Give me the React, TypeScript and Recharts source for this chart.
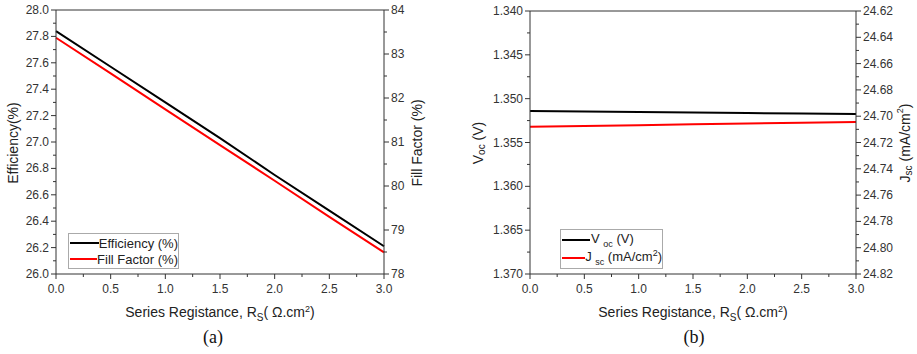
import React from 'react'
import {
  LineChart,
  Line,
  XAxis,
  YAxis,
  Legend,
  ReferenceLine,
} from 'recharts'

// Series resistance sweep (Ω.cm²)
const rs = [0, 0.5, 1.0, 1.5, 2.0, 2.5, 3.0]

// (a) efficiency and fill factor
const efficiency = [27.84, 27.57, 27.3, 27.03, 26.75, 26.48, 26.21]
const fillFactor = [83.37, 82.56, 81.74, 80.93, 80.12, 79.3, 78.49]

// (b) open circuit voltage and short circuit current density
const voc = [1.35141, 1.35147, 1.35153, 1.35158, 1.35164, 1.35169, 1.35175]
const jsc = [24.708, 24.7074, 24.7068, 24.7062, 24.7056, 24.705, 24.7044]

// tick lists (major + minor)
const xTicks = [0, 0.25, 0.5, 0.75, 1, 1.25, 1.5, 1.75, 2, 2.25, 2.5, 2.75, 3]
const effTicks = [
  26.0, 26.1, 26.2, 26.3, 26.4, 26.5, 26.6, 26.7, 26.8, 26.9, 27.0, 27.1, 27.2,
  27.3, 27.4, 27.5, 27.6, 27.7, 27.8, 27.9, 28.0,
]
const ffTicks = [78, 78.5, 79, 79.5, 80, 80.5, 81, 81.5, 82, 82.5, 83, 83.5, 84]
const vocTicks = [
  1.34, 1.3425, 1.345, 1.3475, 1.35, 1.3525, 1.355, 1.3575, 1.36, 1.3625,
  1.365, 1.3675, 1.37,
]
const jscTicks = [
  24.62, 24.63, 24.64, 24.65, 24.66, 24.67, 24.68, 24.69, 24.7, 24.71, 24.72,
  24.73, 24.74, 24.75, 24.76, 24.77, 24.78, 24.79, 24.8, 24.81, 24.82,
]

const AXIS = '#333'
const FONT = '"Liberation Sans", Arial, sans-serif'
const TICK_FONT = 12
const TITLE_FONT = 14

const isMajor = (v: number, step: number) =>
  Math.abs(v / step - Math.round(v / step)) < 1e-6

// tick with outward major/minor marks; tickSize/tickMargin are 0 so x/y sit on the axis
function makeTick(side: 'left' | 'right' | 'bottom', step: number, digits: number) {
  return (props: any) => {
    const { x, y, payload } = props
    const v = payload.value as number
    const major = isMajor(v, step)
    const len = major ? 5 : 3
    const label = major ? v.toFixed(digits) : null
    if (side === 'left') {
      return (
        <g>
          <line x1={x} x2={x - len} y1={y} y2={y} stroke={AXIS} />
          {label && (
            <text x={x - 7} y={y} dy={4} textAnchor="end" fontSize={TICK_FONT} fill={AXIS} fontFamily={FONT}>
              {label}
            </text>
          )}
        </g>
      )
    }
    if (side === 'right') {
      return (
        <g>
          <line x1={x} x2={x + len} y1={y} y2={y} stroke={AXIS} />
          {label && (
            <text x={x + 7} y={y} dy={4} textAnchor="start" fontSize={TICK_FONT} fill={AXIS} fontFamily={FONT}>
              {label}
            </text>
          )}
        </g>
      )
    }
    return (
      <g>
        <line x1={x} x2={x} y1={y} y2={y + len} stroke={AXIS} />
        {label && (
          <text x={x} y={y + 19} textAnchor="middle" fontSize={TICK_FONT} fill={AXIS} fontFamily={FONT}>
            {label}
          </text>
        )}
      </g>
    )
  }
}

function xTitle(tag: string, tagDx: number) {
  return (props: any) => {
    const { viewBox } = props
    const cx = viewBox.x + viewBox.width / 2
    return (
      <g>
        <text x={cx} y={317} textAnchor="middle" fontSize={TITLE_FONT} fill="#222" fontFamily={FONT}>
          Series Registance, R
          <tspan dy={4} fontSize={10}>S</tspan>
          <tspan dy={-4}>( Ω.cm</tspan>
          <tspan dy={-5} fontSize={9}>2</tspan>
          <tspan dy={5}>)</tspan>
        </text>
        <text x={cx + tagDx} y={343} textAnchor="middle" fontSize={18} fill="#111" fontFamily='"Liberation Serif", "Times New Roman", serif'>
          {tag}
        </text>
      </g>
    )
  }
}

function yTitle(cx: number, content: React.ReactNode) {
  return () => (
    <text
      x={cx}
      y={143}
      transform={`rotate(-90 ${cx} 143)`}
      textAnchor="middle"
      dominantBaseline="central"
      fontSize={TITLE_FONT}
      fill="#222"
      fontFamily={FONT}
    >
      {content}
    </text>
  )
}

function legendBox(
  items: { color: string; label: React.ReactNode }[],
  width: number,
  rowH: number,
  lineW: number
) {
  return () => (
    <div
      style={{
        width,
        border: '1px solid #aaa',
        background: '#fff',
        padding: '1px 0',
        fontFamily: FONT,
        fontSize: 13,
        color: '#222',
        boxSizing: 'border-box',
      }}
    >
      {items.map((it, i) => (
        <div key={i} style={{ display: 'flex', alignItems: 'center', height: rowH }}>
          <svg width={lineW + 1} height={4} style={{ marginLeft: 1 }}>
            <line x1={0} x2={lineW} y1={2} y2={2} stroke={it.color} strokeWidth={2} />
          </svg>
          <span style={{ whiteSpace: 'nowrap', lineHeight: 1 }}>{it.label}</span>
        </div>
      ))}
    </div>
  )
}

const dataA = rs.map((r, i) => ({ rs: r, eff: efficiency[i], ff: fillFactor[i] }))
const dataB = rs.map((r, i) => ({ rs: r, voc: voc[i], jsc: jsc[i] }))

function ChartA() {
  return (
    <LineChart
      width={459}
      height={354}
      data={dataA}
      margin={{ top: 10, right: 30, bottom: 50, left: 6 }}
    >
      <XAxis
        dataKey="rs"
        type="number"
        domain={[0, 3]}
        ticks={xTicks}
        interval={0}
        height={30}
        tickSize={0}
        tickMargin={0}
        tickLine={false}
        axisLine={{ stroke: AXIS }}
        tick={makeTick('bottom', 0.5, 1)}
        label={{ content: xTitle('(a)', -7) }}
      />
      <YAxis
        yAxisId="eff"
        orientation="left"
        type="number"
        domain={[26, 28]}
        ticks={effTicks}
        interval={0}
        width={50}
        tickSize={0}
        tickMargin={0}
        tickLine={false}
        axisLine={{ stroke: AXIS }}
        tick={makeTick('left', 0.2, 1)}
        label={{ content: yTitle(13, 'Efficiency(%)') }}
      />
      <YAxis
        yAxisId="ff"
        orientation="right"
        type="number"
        domain={[78, 84]}
        ticks={ffTicks}
        interval={0}
        width={45}
        tickSize={0}
        tickMargin={0}
        tickLine={false}
        axisLine={{ stroke: AXIS }}
        tick={makeTick('right', 1, 0)}
        label={{ content: yTitle(417, 'Fill Factor (%)') }}
      />
      <ReferenceLine yAxisId="eff" y={28} stroke={AXIS} />
      <Legend
        layout="horizontal"
        verticalAlign="middle"
        align="center"
        wrapperStyle={{ left: 68, top: 233, width: 'auto' }}
        content={legendBox(
          [
            { color: '#000', label: 'Efficiency (%)' },
            { color: '#f00', label: 'Fill Factor (%)' },
          ],
          111,
          16,
          29
        )}
      />
      <Line yAxisId="eff" dataKey="eff" stroke="#000" strokeWidth={2} dot={false} isAnimationActive={false} />
      <Line yAxisId="ff" dataKey="ff" stroke="#f00" strokeWidth={2} dot={false} isAnimationActive={false} />
    </LineChart>
  )
}

function ChartB() {
  return (
    <LineChart
      width={459}
      height={354}
      data={dataB}
      margin={{ top: 11, right: 11, bottom: 50, left: 10 }}
    >
      <XAxis
        dataKey="rs"
        type="number"
        domain={[0, 3]}
        ticks={xTicks}
        interval={0}
        height={30}
        tickSize={0}
        tickMargin={0}
        tickLine={false}
        axisLine={{ stroke: AXIS }}
        tick={makeTick('bottom', 0.5, 1)}
        label={{ content: xTitle('(b)', 1) }}
      />
      <YAxis
        yAxisId="voc"
        orientation="left"
        type="number"
        reversed
        domain={[1.34, 1.37]}
        ticks={vocTicks}
        interval={0}
        width={62}
        tickSize={0}
        tickMargin={0}
        tickLine={false}
        axisLine={{ stroke: AXIS }}
        tick={makeTick('left', 0.005, 3)}
        label={{
          content: yTitle(
            20,
            <>
              V<tspan dy={3} fontSize={10}>oc</tspan>
              <tspan dy={-3}> (V)</tspan>
            </>
          ),
        }}
      />
      <YAxis
        yAxisId="jsc"
        orientation="right"
        type="number"
        reversed
        domain={[24.62, 24.82]}
        ticks={jscTicks}
        interval={0}
        width={50}
        tickSize={0}
        tickMargin={0}
        tickLine={false}
        axisLine={{ stroke: AXIS }}
        tick={makeTick('right', 0.02, 2)}
        label={{
          content: yTitle(
            447,
            <>
              J<tspan dy={3} fontSize={10}>sc</tspan>
              <tspan dy={-3}> (mA/cm</tspan>
              <tspan dy={-5} fontSize={9}>2</tspan>
              <tspan dy={5}>)</tspan>
            </>
          ),
        }}
      />
      <ReferenceLine yAxisId="voc" y={1.34} stroke={AXIS} />
      <Legend
        layout="horizontal"
        verticalAlign="middle"
        align="center"
        wrapperStyle={{ left: 102, top: 229, width: 'auto' }}
        content={legendBox(
          [
            {
              color: '#000',
              label: (
                <>
                  V <sub style={{ fontSize: 9 }}>oc</sub> (V)
                </>
              ),
            },
            {
              color: '#f00',
              label: (
                <>
                  J <sub style={{ fontSize: 9 }}>sc</sub> (mA/cm<sup style={{ fontSize: 9 }}>2</sup>)
                </>
              ),
            },
          ],
          103,
          18,
          28
        )}
      />
      <Line yAxisId="voc" dataKey="voc" stroke="#000" strokeWidth={2} dot={false} isAnimationActive={false} />
      <Line yAxisId="jsc" dataKey="jsc" stroke="#f00" strokeWidth={2} dot={false} isAnimationActive={false} />
    </LineChart>
  )
}

export default function App() {
  return (
    <div
      style={{
        position: 'absolute',
        left: 0,
        top: 0,
        width: 917,
        height: 354,
        background: '#fff',
        fontFamily: FONT,
      }}
    >
      <div style={{ position: 'absolute', left: 0, top: 0 }}>
        <ChartA />
      </div>
      <div style={{ position: 'absolute', left: 458, top: 0 }}>
        <ChartB />
      </div>
    </div>
  )
}
